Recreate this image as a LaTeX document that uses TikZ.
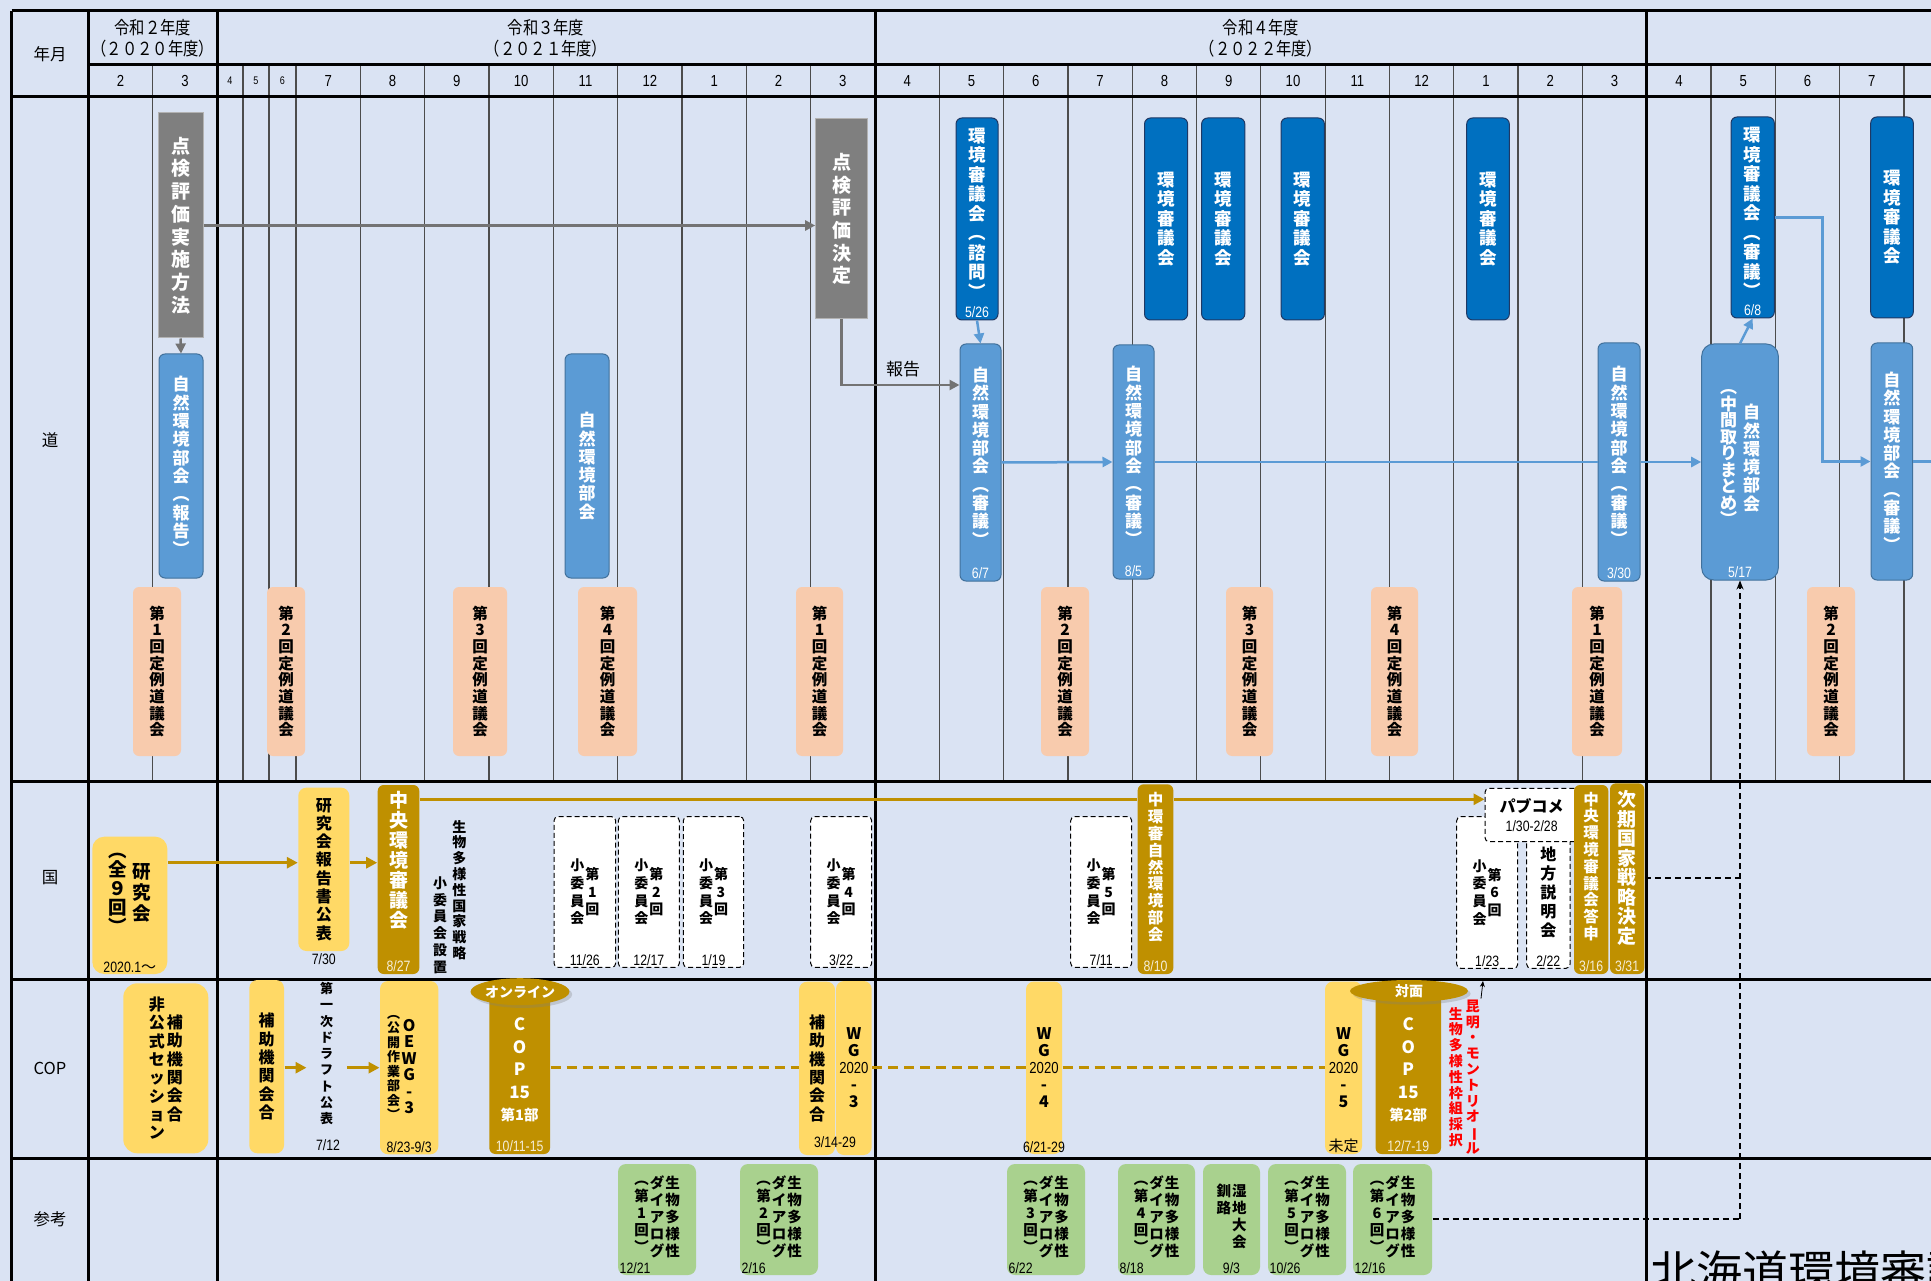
\documentclass[tikz,border=0pt]{standalone}
\usepackage{fontspec}
\setmainfont{Noto Sans CJK JP}
\newfontfamily\narrow[FakeStretch=0.82]{Liberation Sans}
\newfontfamily\hdrfont[FakeStretch=0.85]{Noto Sans CJK JP}
\usetikzlibrary{arrows.meta,shapes.geometric,shadows}

\definecolor{bgblue}{HTML}{DAE3F3}
\definecolor{shingray}{HTML}{7F7F7F}
\definecolor{kshinblue}{HTML}{0070C0}
\definecolor{kshinedge}{HTML}{1F3864}
\definecolor{bukaiblue}{HTML}{5B9BD5}
\definecolor{bukaiedge}{HTML}{41719C}
\definecolor{peach}{HTML}{F8CBAD}
\definecolor{yelc}{HTML}{FFD966}
\definecolor{goldc}{HTML}{BF9000}
\definecolor{greenc}{HTML}{A9D18E}

% vertical text: one character per line
\makeatletter
\newcommand\tate[1]{\ensuremath{\vcenter{\lineskiplimit=-\maxdimen\@tfor\tate@c:=#1\do{\hbox to 1em{\hss\tate@c\hss}}}}}
\makeatother
% centre a text block in its box, optionally moved up
\newbox\vmidbox
\newcommand\vmid[2][0pt]{\setbox\vmidbox\hbox{#2}\raise\dimexpr\dp\vmidbox+#1+#1\relax\box\vmidbox}
\newcommand\chou{\rotatebox[origin=c]{-90}{ー}}

\tikzset{
  spanbox/.style n args={4}{at={({(#1+#3)/2},{(#2+#4)/2})}, minimum width={#3-#1}, minimum height={#4-#2}},
  monthline/.style={line width=1.2pt, black!70},
  frame/.style={line width=3pt, black},
  boxbase/.style={inner sep=0pt, line width=1pt},
  graybox/.style={boxbase, draw=black!30, fill=shingray, text=white, font=\bfseries\fontsize{19}{22.7}\selectfont},
  shinbox/.style={boxbase, draw=kshinedge, fill=kshinblue, rounded corners=6pt, text=white, font=\bfseries\fontsize{17.5}{19.5}\selectfont},
  bukaibox/.style={boxbase, draw=bukaiedge, fill=bukaiblue, rounded corners=6pt, text=white, font=\bfseries\fontsize{17}{18.3}\selectfont},
  gikaibox/.style={boxbase, fill=peach, rounded corners=6pt, font=\bfseries\fontsize{15.5}{16.7}\selectfont},
  yelbox/.style={boxbase, fill=yelc, rounded corners=8pt, font=\bfseries\fontsize{16}{18.3}\selectfont},
  goldbox/.style={boxbase, fill=goldc, rounded corners=6pt, text=white, font=\bfseries\fontsize{15.5}{16.8}\selectfont},
  shoibox/.style={boxbase, draw, dash pattern=on 5pt off 3pt, fill=white, rounded corners=4pt, font=\bfseries\fontsize{14}{17.6}\selectfont},
  diabox/.style={boxbase, fill=greenc, rounded corners=8pt, font=\bfseries\fontsize{14.5}{17}\selectfont},
  capsule/.style={ellipse, fill=goldc, text=white, inner sep=0pt, font=\bfseries\fontsize{14}{14}\selectfont, drop shadow={opacity=0.3}},
  wdate/.style={text=white, font=\narrow\fontsize{15}{15}\selectfont, inner sep=3pt, anchor=south},
  gdate/.style={text=white!85!goldc, font=\narrow\fontsize{15}{15}\selectfont, inner sep=3pt, anchor=south},
  bdate/.style={text=black, font=\narrow\fontsize{15}{15}\selectfont, inner sep=2pt},
  monthlbl/.style={font=\narrow\fontsize{16}{16}\selectfont},
  hdrlbl/.style={align=center, font=\hdrfont\fontsize{18}{21}\selectfont},
  rowlbl/.style={font=\fontsize{16.5}{16.5}\selectfont},
  freetate/.style={inner sep=1pt, font=\bfseries\fontsize{14}{15.8}\selectfont},
  grayarrow/.style={line width=2.5pt, draw=black!55, -{Triangle[length=10pt,width=10pt]}},
  bluearrow/.style={line width=2.5pt, draw=bukaiblue, -{Triangle[length=10pt,width=10pt]}},
  blueline/.style={line width=2.5pt, draw=bukaiblue},
  goldarrow/.style={line width=3pt, draw=goldc, -{Triangle[length=11pt,width=11pt]}},
  goldline/.style={line width=3pt, draw=goldc},
  golddash/.style={line width=3pt, draw=goldc, dash pattern=on 10pt off 6pt},
  refdash/.style={line width=1.3pt, black, dash pattern=on 6pt off 4pt},
}

\begin{document}
\begin{tikzpicture}[x=1pt,y=-1pt]
\useasboundingbox (0,0) rectangle (1931,1281);
\fill[bgblue] (0,0) rectangle (1931,1281);
% grid
\foreach \x in {152.7,243,269,296,360.3,424.7,489,553.3,617.6,682,746.3,810.6,939.3,1003.6,1067.9,1132.2,1196.5,1260.8,1325.1,1389.4,1453.7,1518,1582.3,1711,1775.3,1839.6,1904}
  \draw[monthline] (\x,65) -- (\x,781);
\foreach \y in {11,97,781,979,1158} \draw[frame] (11.7,\y) -- (1931,\y);
\draw[frame] (88.5,65) -- (1931,65);
\foreach \x in {11.7,88.5,217,875,1646.7} \draw[frame] (\x,11) -- (\x,1281);
% headings
\node[rowlbl] (nengetsu) at (50,54) {年月};
\node[rowlbl] (rowdo) at (50,440) {道};
\node[rowlbl] (rowkuni) at (50,878) {国};
\node[rowlbl] (rowcop) at (50,1068) {COP};
\node[rowlbl] (rowsanko) at (50,1219) {参考};
\node[hdrlbl] (fy2) at (152.7,38) {令和２年度\\（２０２０年度）};
\node[hdrlbl] (fy3) at (546,38) {令和３年度\\（２０２１年度）};
\node[hdrlbl] (fy4) at (1261,38) {令和４年度\\（２０２２年度）};
\foreach \x/\m [count=\i] in {120.6/2,184.9/3,328.2/7,392.5/8,456.8/9,521.2/10,585.5/11,649.8/12,714.2/1,778.5/2,842.8/3,907.2/4,971.5/5,1035.8/6,1100/7,1164.4/8,1228.7/9,1293/10,1357.3/11,1421.6/12,1486/1,1550.2/2,1614.5/3,1678.9/4,1743.2/5,1807.5/6,1871.8/7,1936/8}
  \node[monthlbl] (mon\i) at (\x,81) {\m};
\foreach \x/\m [count=\i] in {230/4,256/5,282.5/6}
  \node[monthlbl, font=\narrow\fontsize{11}{11}\selectfont] (smon\i) at (\x,81) {\m};
%
% 道
\node[graybox, spanbox={158}{113}{203}{338}] (hyoka) {\vmid{\tate{点検評価実施方法}}};
\node[graybox, spanbox={815.7}{119}{867.7}{319}] (kettei) {\vmid{\tate{点検評価決定}}};
\node[bukaibox, spanbox={159}{354}{203}{578}] (bk1) {\vmid{\tate{自然環境部会︵報告︶}}};
\node[bukaibox, spanbox={565}{354}{609}{578}] (bk2) {\vmid{\tate{自然環境部会}}};
\node[bukaibox, spanbox={960}{344}{1001}{581}, label={[wdate]south:6/7}] (bk3) {\vmid[6pt]{\tate{自然環境部会︵審議︶}}};
\node[bukaibox, spanbox={1113}{345}{1154}{579}, label={[wdate]south:8/5}] (bk4) {\vmid[6pt]{\tate{自然環境部会︵審議︶}}};
\node[bukaibox, spanbox={1598}{343}{1640}{581}, label={[wdate]south:3/30}] (bk5) {\vmid[6pt]{\tate{自然環境部会︵審議︶}}};
\node[bukaibox, rounded corners=12pt, spanbox={1701.7}{344}{1778.3}{580}, label={[wdate]south:5/17}] (bkmid) {\vmid[4pt]{{\fontsize{17}{16.5}\selectfont\tate{︵中間取りまとめ︶}}\hspace{6pt}\tate{自然環境部会}}};
\node[bukaibox, spanbox={1871}{343}{1912.7}{580}] (bk6) {\vmid{\tate{自然環境部会︵審議︶}}};
\node[shinbox, spanbox={956}{118}{998}{320}, label={[wdate]south:5/26}] (ks1) {\vmid[6pt]{\tate{環境審議会︵諮問︶}}};
\node[shinbox, spanbox={1144.5}{118}{1187.6}{320}] (ks2) {\vmid{\tate{環境審議会}}};
\node[shinbox, spanbox={1201.6}{118}{1244.8}{320}] (ks3) {\vmid{\tate{環境審議会}}};
\node[shinbox, spanbox={1281}{118}{1324.4}{320}] (ks4) {\vmid{\tate{環境審議会}}};
\node[shinbox, spanbox={1466.7}{118}{1509.3}{320}] (ks5) {\vmid{\tate{環境審議会}}};
\node[shinbox, spanbox={1731}{117}{1774.3}{318}, label={[wdate]south:6/8}] (ks6) {\vmid[5pt]{\tate{環境審議会︵審議︶}}};
\node[shinbox, spanbox={1870.7}{117}{1913.3}{318}] (ks7) {\vmid{\tate{環境審議会}}};
\node[gikaibox, spanbox={133}{587}{181}{756}] (gk1) {\vmid{\tate{第1回定例道議会}}};
\node[gikaibox, spanbox={267}{587}{305}{756}] (gk2) {\vmid{\tate{第2回定例道議会}}};
\node[gikaibox, spanbox={453}{587}{507}{756}] (gk3) {\vmid{\tate{第3回定例道議会}}};
\node[gikaibox, spanbox={578}{587}{637}{756}] (gk4) {\vmid{\tate{第4回定例道議会}}};
\node[gikaibox, spanbox={796}{587}{843}{756}] (gk5) {\vmid{\tate{第1回定例道議会}}};
\node[gikaibox, spanbox={1041}{587}{1089}{756}] (gk6) {\vmid{\tate{第2回定例道議会}}};
\node[gikaibox, spanbox={1226}{587}{1273}{756}] (gk7) {\vmid{\tate{第3回定例道議会}}};
\node[gikaibox, spanbox={1371}{587}{1418}{756}] (gk8) {\vmid{\tate{第4回定例道議会}}};
\node[gikaibox, spanbox={1572}{587}{1622}{756}] (gk9) {\vmid{\tate{第1回定例道議会}}};
\node[gikaibox, spanbox={1807}{587}{1855}{756}] (gk10) {\vmid{\tate{第2回定例道議会}}};
\node[font=\fontsize{17}{17}\selectfont] (hokoku) at (903,369) {報告};
\coordinate (offright) at (1931,461.5);
%
\draw[grayarrow] (hyoka.south) -- (bk1.north);
\draw[grayarrow] (hyoka.east) -- (hyoka.east -| kettei.west);
\draw[grayarrow] (kettei.south) |- (bk3.west |- 0,385);
\draw[bluearrow] (ks1.south) -- (bk3.north);
\draw[bluearrow] (bk3.east) -- (bk4.west);
\draw[blueline] (bk4.east) -- (bk5.west);
\draw[bluearrow] (bk5.east) -- (bkmid.west);
\draw[bluearrow] (bkmid.north) -- (ks6.south);
\draw[bluearrow] (ks6.east) -- (1822.7,217.5) |- (bk6.west);
\draw[blueline] (bk6.east) -- (offright);
%
% 国
\node[yelbox, rounded corners=12pt, spanbox={92.3}{836.7}{167.3}{974}, label={[bdate,anchor=south]south:2020.1{\rmfamily ～}}] (kenkyu) {\vmid[12pt]{{\fontsize{18.5}{19}\selectfont\tate{︵全９回︶}}\hspace{6pt}{\fontsize{18.5}{21}\selectfont\tate{研究会}}}};
\node[yelbox, spanbox={298.3}{787.7}{349.3}{951}, label={[bdate]south:7/30}] (hokokusho) {\vmid{\tate{研究会報告書公表}}};
\node[goldbox, spanbox={377.7}{785}{419.3}{974}, label={[gdate]south:8/27}] (chuo) {\vmid[19pt]{{\fontsize{19}{20}\selectfont\tate{中央環境審議会}}}};
\node[freetate] (senryaku) at (459.3,890) {\tate{生物多様性国家戦略}};
\node[freetate, font=\bfseries\fontsize{14}{16.8}\selectfont] (shoiset) at (440,925) {\tate{小委員会設置}};
\node[shoibox, spanbox={554}{816.7}{615.7}{967.3}, label={[bdate,anchor=south]south:11/26}] (sho1) {\vmid{\tate{小委員会}\hspace{1pt}\tate{第1回}}};
\node[shoibox, spanbox={618.3}{816.7}{679.3}{967.3}, label={[bdate,anchor=south]south:12/17}] (sho2) {\vmid{\tate{小委員会}\hspace{1pt}\tate{第2回}}};
\node[shoibox, spanbox={683.3}{816.7}{743.7}{967.3}, label={[bdate,anchor=south]south:1/19}] (sho3) {\vmid{\tate{小委員会}\hspace{1pt}\tate{第3回}}};
\node[shoibox, spanbox={810.7}{816.7}{871.7}{967.3}, label={[bdate,anchor=south]south:3/22}] (sho4) {\vmid{\tate{小委員会}\hspace{1pt}\tate{第4回}}};
\node[shoibox, spanbox={1070.7}{816.7}{1131.7}{967.3}, label={[bdate,anchor=south]south:7/11}] (sho5) {\vmid{\tate{小委員会}\hspace{1pt}\tate{第5回}}};
\node[goldbox, spanbox={1137.7}{784.3}{1173.3}{974}, label={[gdate]south:8/10}] (chukan) {\vmid[12pt]{\tate{中環審自然環境部会}}};
\node[shoibox, spanbox={1456.7}{816.7}{1517.7}{968.3}, label={[bdate,anchor=south]south:1/23}] (sho6) {\vmid{\tate{小委員会}\hspace{1pt}\tate{第6回}}};
\node[shoibox, spanbox={1526.7}{816.7}{1570}{968.3}, label={[bdate,anchor=south]south:2/22}] (setsumei) {\vmid{{\fontsize{16}{19}\selectfont\tate{地方説明会}}}};
\node[shoibox, align=center, spanbox={1485}{788.3}{1578.3}{841.7}] (pubcom) {{\fontsize{16}{16}\selectfont パブコメ}\\[2pt]{\narrow\mdseries\fontsize{15}{15}\selectfont 1/30-2/28}};
\node[goldbox, spanbox={1574}{785}{1608.3}{974}, label={[gdate]south:3/16}] (toshin) {\vmid[13pt]{\tate{中央環境審議会答申}}};
\node[goldbox, spanbox={1610}{783.3}{1644.3}{974}, label={[gdate]south:3/31}] (kokka) {\vmid[11pt]{{\fontsize{19}{19.5}\selectfont\tate{次期国家戦略決定}}}};
%
\draw[goldarrow] (kenkyu.east |- 0,862.7) -- (hokokusho.west |- 0,862.7);
\draw[goldarrow] (hokokusho.east |- 0,862.7) -- (chuo.west |- 0,862.7);
\draw[goldline] (chuo.east |- 0,799.3) -- (chukan.west |- 0,799.3);
\draw[goldarrow] (chukan.east |- 0,799.3) -- (pubcom.west |- 0,799.3);
%
% COP
\node[yelbox, rounded corners=14pt, spanbox={123.3}{983.3}{208.3}{1153.3}] (hojo0) {\vmid{\tate{非公式セッション}\hspace{2pt}\tate{補助機関会合}}};
\node[yelbox, spanbox={249.3}{980}{284}{1153.3}] (hojo1) {\vmid{\tate{補助機関会合}}};
\node[freetate, minimum width=40pt, font=\bfseries\fontsize{13}{16.3}\selectfont] (draft) at (326.7,1053.6) {\tate{第一次ドラフト公表}};
\node[bdate] (d712) at (328,1145) {7/12};
\node[yelbox, spanbox={380}{981}{438.3}{1154.3}, label={[bdate,anchor=south]south:8/23-9/3}] (oewg) {\vmid{{\fontsize{13}{14.5}\selectfont\tate{︵公開作業部会︶}}\hspace{1pt}{\fontsize{16}{16.5}\selectfont\tate{O E W G - 3}}\hspace{14pt}}};
\node[goldbox, spanbox={489.3}{990}{550}{1154}, label={[gdate]south:10/11-15}] (cop1) {\vmid[2pt]{{\fontsize{17}{22.5}\selectfont\tate{C O P {15} {\fontsize{14.5}{14.5}\selectfont 第1部}}}}};
\node[capsule, minimum width=96pt, minimum height=27pt] (online) at (520,991.7) {オンライン};
\node[yelbox, spanbox={799}{981.7}{835}{1155}] (hojo2) {\vmid{\tate{補助機関会合}}};
\node[yelbox, spanbox={836}{981}{871.7}{1155}] (wg3) {\vmid{{\fontsize{16}{17}\selectfont\tate{W G {\narrow\mdseries 2020} - 3}}}};
\node[bdate] (d314) at (835,1141.7) {3/14-29};
\node[yelbox, spanbox={1026}{981.5}{1062}{1154}, label={[bdate,anchor=south]south:6/21-29}] (wg4) {\vmid{{\fontsize{16}{17}\selectfont\tate{W G {\narrow\mdseries 2020} - 4}}}};
\node[yelbox, spanbox={1325}{981.5}{1362}{1154}, label={[bdate,anchor=south]south:{\rmfamily 未定}}] (wg5) {\vmid{{\fontsize{16}{17}\selectfont\tate{W G {\narrow\mdseries 2020} - 5}}}};
\node[goldbox, spanbox={1375.6}{990}{1441}{1154}, label={[gdate]south:12/7-19}] (cop2) {\vmid[2pt]{{\fontsize{17}{22.5}\selectfont\tate{C O P {15} {\fontsize{14.5}{14.5}\selectfont 第2部}}}}};
\node[capsule, minimum width=118pt, minimum height=22pt] (taimen) at (1409,991) {対面};
\node[freetate, text=red] (kunming) at (1464.3,1077) {\tate{生物多様性枠組採択}\hspace{3pt}\tate{昆明・モントリオ\chou ル}};
\coordinate (kmtip) at (1483,981);
%
\draw[goldarrow] (hojo1.east |- 0,1067.7) -- (draft.west |- 0,1067.7);
\draw[goldarrow] (draft.east |- 0,1067.7) -- (oewg.west |- 0,1067.7);
\draw[golddash] (cop1.east |- 0,1067.7) -- (hojo2.west |- 0,1067.7);
\draw[golddash] (wg3.east |- 0,1067.7) -- (wg4.west |- 0,1067.7);
\draw[golddash] (wg4.east |- 0,1067.7) -- (wg5.west |- 0,1067.7);
\draw[-{Stealth[length=6pt,width=5pt]}, line width=0.8pt] (kunming.north east) -- (kmtip);
%
% 参考
\node[diabox, spanbox={618}{1164}{696}{1275}, label={[bdate,anchor=south west]south west:12/21}] (dia1) {\vmid[3pt]{\tate{︵第1回︶}\hspace{1pt}\tate{ダイアログ}\hspace{1pt}\tate{生物多様性}}};
\node[diabox, spanbox={740}{1164}{818}{1275}, label={[bdate,anchor=south west]south west:2/16}] (dia2) {\vmid[3pt]{\tate{︵第2回︶}\hspace{1pt}\tate{ダイアログ}\hspace{1pt}\tate{生物多様性}}};
\node[diabox, spanbox={1007}{1164}{1085}{1275}, label={[bdate,anchor=south west]south west:6/22}] (dia3) {\vmid[3pt]{\tate{︵第3回︶}\hspace{1pt}\tate{ダイアログ}\hspace{1pt}\tate{生物多様性}}};
\node[diabox, spanbox={1118}{1164}{1195}{1275}, label={[bdate,anchor=south west]south west:8/18}] (dia4) {\vmid[3pt]{\tate{︵第4回︶}\hspace{1pt}\tate{ダイアログ}\hspace{1pt}\tate{生物多様性}}};
\node[diabox, spanbox={1203}{1164}{1260}{1275}, label={[bdate,anchor=south]south:9/3}] (kushiro) {\vmid[3pt]{\raisebox{17pt}{\tate{釧路}}\hspace{1pt}\tate{湿地大会}}};
\node[diabox, spanbox={1268}{1164}{1346}{1275}, label={[bdate,anchor=south west]south west:10/26}] (dia5) {\vmid[3pt]{\tate{︵第5回︶}\hspace{1pt}\tate{ダイアログ}\hspace{1pt}\tate{生物多様性}}};
\node[diabox, spanbox={1353}{1164}{1432}{1275}, label={[bdate,anchor=south west]south west:12/16}] (dia6) {\vmid[3pt]{\tate{︵第6回︶}\hspace{1pt}\tate{ダイアログ}\hspace{1pt}\tate{生物多様性}}};
\node[anchor=north west, inner sep=0pt, font=\fontsize{46}{46}\selectfont] (dotitle) at (1650,1251) {北海道環境審議会};
%
\coordinate (joint) at (bkmid.south |- 0,1219);
\draw[refdash] (dia6.east |- joint) -- (joint);
\draw[refdash] (kokka.east |- 0,878) -- (joint |- 0,878);
\draw[refdash, -{Stealth[length=9pt,width=7pt]}] (joint) -- (bkmid.south);
\end{tikzpicture}
\end{document}
